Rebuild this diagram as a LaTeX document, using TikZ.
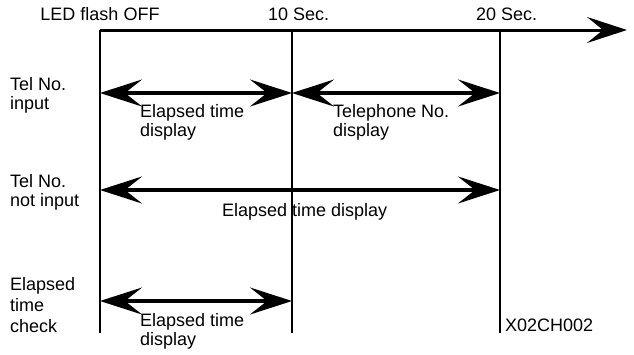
\documentclass[tikz,border=0pt]{standalone}
\usepackage{fontspec}
\setmainfont{Liberation Sans}
\usetikzlibrary{arrows.meta}
\begin{document}
\begin{tikzpicture}[x=1pt,y=-1pt,
  lbl/.style={inner sep=0pt,align=left,font=\fontsize{18}{19.5}\selectfont},
  vline/.style={line width=2.5pt},
  tip/.style={Stealth[length=42pt,width=27pt,inset=17pt]},
  span/.style={line width=3.5pt,{Stealth[length=42pt,width=27pt,inset=17pt]}-{Stealth[length=42pt,width=27pt,inset=17pt]}},
  axis/.style={line width=3pt,-{Stealth[length=40pt,width=26pt,inset=16pt]}}]
\useasboundingbox (0,0) rectangle (634,354);
% header texts
\node[lbl,anchor=base] (led) at (100,20) {LED flash OFF};
\node[lbl,anchor=base west] (s10) at (268,20) {10 Sec.};
\node[lbl,anchor=base west] (s20) at (476,20) {20 Sec.};
% row labels
\node[lbl,anchor=north west] (r1) at (10,77) {Tel No.\\input};
\node[lbl,anchor=north west] (r2) at (10,174) {Tel No.\\not input};
\node[lbl,anchor=north west,font=\fontsize{18}{21}\selectfont] (r3) at (10,277) {Elapsed\\time\\check};
% span labels
\node[lbl,anchor=north west] (l1a) at (140,104) {Elapsed time\\display};
\node[lbl,anchor=north west] (l1b) at (333,104) {Telephone No.\\display};
\node[lbl,anchor=north west] (l2) at (222,203) {Elapsed time display};
\node[lbl,anchor=north west] (l3) at (140,313) {Elapsed time\\display};
\node[lbl,anchor=north west] (code) at (505,319) {X02CH002};
% coordinates
\coordinate (a0) at (100,30);
\coordinate (a1) at (292,30);
\coordinate (a2) at (500,30);
\coordinate (aend) at (627,30);
\coordinate (b0) at (100,333);
\coordinate (b1) at (292,333);
\coordinate (b2) at (500,333);
\coordinate (p10) at (100,93);
\coordinate (p11) at (292,93);
\coordinate (p12) at (500,93);
\coordinate (p20) at (100,190);
\coordinate (p22) at (500,190);
\coordinate (p30) at (100,301);
\coordinate (p31) at (292,301);
% lines
\draw[vline] (a0) -- (b0);
\draw[vline] (a1) -- (b1);
\draw[vline] (a2) -- (b2);
\draw[axis] (a0) -- (aend);
\draw[span] (p10) -- (p11);
\draw[span] (p11) -- (p12);
\draw[span] (p20) -- (p22);
\draw[span] (p30) -- (p31);
\end{tikzpicture}
\end{document}
